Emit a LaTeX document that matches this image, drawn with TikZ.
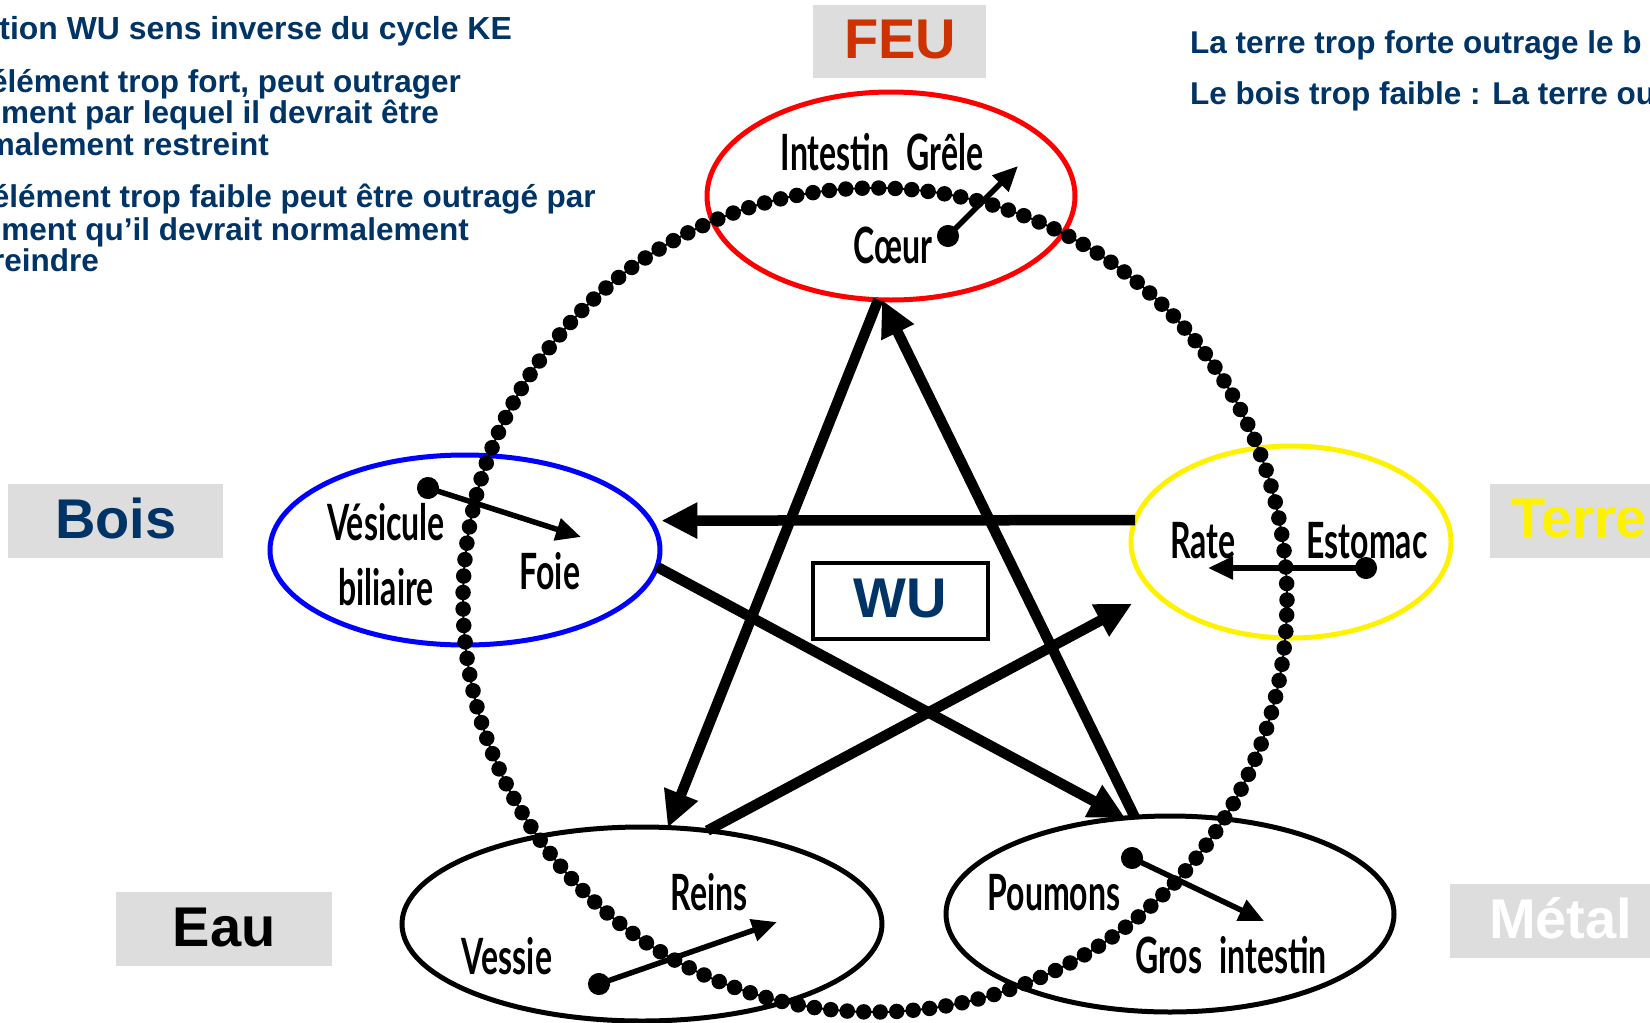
\documentclass[tikz,border=0pt]{standalone}
\usepackage{fontspec}
\setmainfont{Liberation Sans}
\newfontfamily\organfont[FakeStretch=0.64,WordSpace=2.2]{Lato}
\usetikzlibrary{arrows.meta,shapes.geometric}

\definecolor{navyblue}{HTML}{003366}
\definecolor{feured}{HTML}{CC3300}
\definecolor{labelgray}{HTML}{DDDDDD}

\tikzset{
  element/.style={inner sep=0pt, anchor=base, font=\fontsize{56}{60}\selectfont\bfseries},
  organ/.style={ellipse, draw, line width=5pt, inner sep=0pt, outer sep=0pt},
  organname/.style={inner sep=0pt, anchor=base, font=\organfont\bfseries\fontsize{50}{52}\selectfont},
  cycle/.style={line width=10.5pt, -{Triangle[length=36pt,width=34pt]}},
  pair/.style={line width=5.5pt, shorten <=-11pt, {Circle[length=22pt]}-{Triangle[length=25pt,width=22pt]}},
  notes/.style={inner sep=0pt, text=navyblue, font=\fontsize{31.5}{31.5}\selectfont\bfseries},
}

\begin{document}
\begin{tikzpicture}[x=1pt,y=-1pt]
  \useasboundingbox (0,0) rectangle (1650,1023);

  % notes
  \node[notes, anchor=base east, font=\fontsize{31.9}{31.9}\selectfont\bfseries] (note1) at (512,39) {tion WU sens inverse du cycle KE};
  \node[notes, anchor=base east] (note2) at (461,92) {élément trop fort, peut outrager};
  \node[notes, anchor=base east] (note3) at (439,123) {ment par lequel il devrait être};
  \node[notes, anchor=base east] (note4) at (269,155) {malement restreint};
  \node[notes, anchor=base east] (note5) at (596,207) {élément trop faible peut être outragé par};
  \node[notes, anchor=base east] (note6) at (469,240) {ment qu’il devrait normalement};
  \node[notes, anchor=base east] (note7) at (99,271) {reindre};
  \node[notes, anchor=base west] (note8) at (1190,53) {La terre trop forte outrage le b};
  \node[notes, anchor=base west] (note9) at (1190,104) {Le bois trop faible : La terre ou};

  % element labels
  \fill[labelgray] (813,5) rectangle (986,78);
  \fill[labelgray] (8,484) rectangle (223,558);
  \fill[labelgray] (1490,484) rectangle (1650,558);
  \fill[labelgray] (116,892) rectangle (332,966);
  \fill[labelgray] (1450,884) rectangle (1650,958);
  \node[element, text=feured] (feulabel) at (900,58) {FEU};
  \node[element, text=navyblue] (boislabel) at (116,538) {Bois};
  \node[element, text=yellow, anchor=base west] (terrelabel) at (1511,537) {Terre};
  \node[element] (eaulabel) at (224,946) {Eau};
  \node[element, text=white, anchor=base west] (metallabel) at (1489,938) {Métal};

  % organ pairs
  \node[organ, draw=red, minimum width=368pt, minimum height=208pt] (feu) at (891,196) {};
  \node[organ, draw=blue, minimum width=390pt, minimum height=190pt] (bois) at (465,550) {};
  \node[organ, draw=yellow, minimum width=320pt, minimum height=192pt] (terre) at (1291,542) {};
  \node[organ, minimum width=480pt, minimum height=194pt] (eau) at (642,924) {};
  \node[organ, minimum width=448pt, minimum height=196pt] (metal) at (1170,914) {};

  % dotted cycle
  \draw[line width=2pt] (875,600) circle (412pt);
  \draw[line width=15.5pt, line cap=round, dash pattern=on 0pt off 16.5pt] (875,600) circle (412pt);

  % star
  \draw[cycle, shorten >=11pt] (terre.172) -- (bois.9);
  \draw[cycle] (bois.-5) -- (metal.115);
  \draw[cycle] (metal.110) -- (feu.265);
  \draw[cycle] (feu.263) -- (eau.75);
  \draw[cycle, shorten >=25pt] (eau.55) -- (terre.200);

  \node[draw, line width=4pt, minimum width=175pt, minimum height=76pt, inner sep=0pt] (wubox) at (900,601) {};
  \node[element, text=navyblue] (wu) at (900,617) {WU};

  % inside each pair
  \coordinate (coeurdot) at (948,236);
  \coordinate (coeurtip) at (1018,166);
  \coordinate (vesiculedot) at (428,488);
  \coordinate (vesiculetip) at (581,537);
  \coordinate (estomacdot) at (1366,568);
  \coordinate (estomactip) at (1208,568);
  \coordinate (vessiedot) at (599,984);
  \coordinate (vessietip) at (777,922);
  \coordinate (poumonsdot) at (1132,858);
  \coordinate (poumonstip) at (1264,921);
  \draw[pair] (coeurdot) -- (coeurtip);
  \draw[pair] (vesiculedot) -- (vesiculetip);
  \draw[pair] (estomacdot) -- (estomactip);
  \draw[pair] (vessiedot) -- (vessietip);
  \draw[pair] (poumonsdot) -- (poumonstip);

  \node[organname] (intestin) at (882,170) {Intestin Grêle};
  \node[organname] (coeur) at (893,263) {Cœur};
  \node[organname] (vesicule) at (386,540) {Vésicule};
  \node[organname] (biliaire) at (386,605) {biliaire};
  \node[organname] (foie) at (550,589) {Foie};
  \node[organname] (rate) at (1203,558) {Rate};
  \node[organname] (estomac) at (1367,558) {Estomac};
  \node[organname] (reins) at (709,910) {Reins};
  \node[organname] (vessie) at (507,974) {Vessie};
  \node[organname] (poumons) at (1054,910) {Poumons};
  \node[organname] (gros) at (1231,973) {Gros intestin};
\end{tikzpicture}
\end{document}
